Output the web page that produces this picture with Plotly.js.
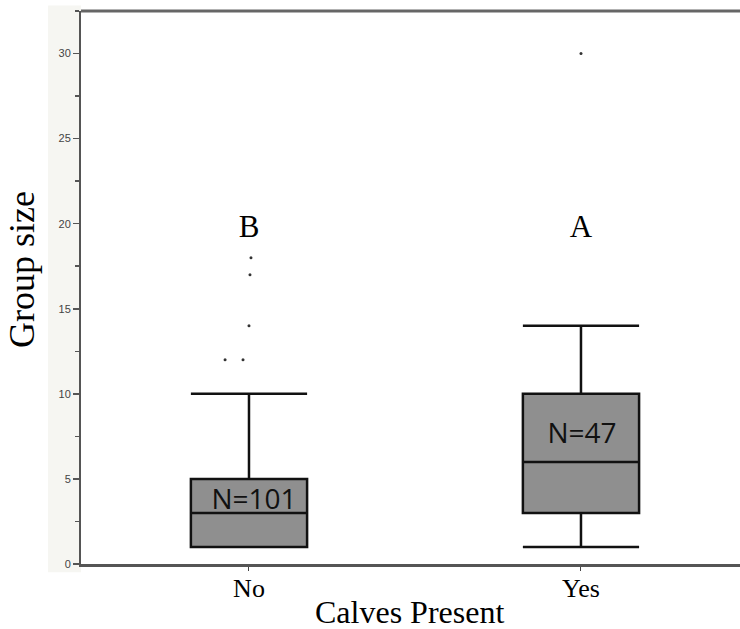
<!DOCTYPE html>
<html><head><meta charset="utf-8">
<script src="https://cdn.plot.ly/plotly-3.0.1.min.js"></script>
<style>html,body{margin:0;padding:0;background:#fff;}</style>
</head><body>
<div id="chart" style="width:740px;height:629px;"></div>
<script>
const categories = ["No", "Yes"];
const catPos = [0, 1];
const lowerWhisker = [1, 1];
const q1 = [1, 3];
const medians = [3, 6];
const q3 = [5, 10];
const upperWhisker = [10, 14];
const outlierCat = [0, 0, 0, 0, 0, 1];
const outlierJitter = [-0.072, -0.018, 0, 0.003, 0.006, 0];
const outlierValues = [12, 12, 14, 17, 18, 30];
const letters = ["B", "A"];
const letterY = [19.7, 19.7];
const nLabels = ["N=101", "N=47"];
const nLabelY = [3.65, 7.5];
const nLabelX = [0.015, 0.003];

const serif = "Liberation Serif, Times New Roman, serif";

const traces = [{
  type: "box",
  x: catPos,
  q1: q1, median: medians, q3: q3,
  lowerfence: lowerWhisker, upperfence: upperWhisker,
  width: 0.35,
  whiskerwidth: 1,
  boxpoints: false,
  fillcolor: "#8f8f8f",
  line: {color: "#111", width: 2.5},
  hoverinfo: "skip",
  showlegend: false
}, {
  type: "scatter", mode: "markers",
  x: outlierCat.map((c, i) => c + outlierJitter[i]),
  y: outlierValues,
  marker: {size: 3, color: "#333"},
  showlegend: false, hoverinfo: "skip"
}, {
  type: "scatter", mode: "text",
  x: catPos, y: letterY, text: letters,
  textfont: {family: serif, size: 31, color: "#000"},
  showlegend: false, hoverinfo: "skip"
}, {
  type: "scatter", mode: "text",
  x: catPos.map((c, i) => c + nLabelX[i]), y: nLabelY, text: nLabels,
  textfont: {family: "Open Sans, Liberation Sans, sans-serif", size: 28, color: "#111"},
  showlegend: false, hoverinfo: "skip"
}];

const layout = {
  width: 740, height: 629,
  margin: {l: 81, r: 0, t: 11, b: 65},
  paper_bgcolor: "#fff", plot_bgcolor: "#fff",
  showlegend: false,
  xaxis: {
    range: [-0.506, 1.479],
    tickvals: catPos, ticktext: categories,
    ticks: "outside", ticklen: 4, tickcolor: "#444",
    ticklabelstandoff: -5,
    tickfont: {family: serif, size: 26, color: "#000"},
    showgrid: false, zeroline: false,
    showline: true, linecolor: "#555", linewidth: 3
  },
  yaxis: {
    range: [0, 32.5],
    tickvals: [0, 5, 10, 15, 20, 25, 30],
    ticks: "outside", ticklen: 6, tickcolor: "#555", tickwidth: 1.5,
    minor: {dtick: 2.5, ticks: "outside", ticklen: 4, tickcolor: "#555", tickwidth: 1.5, showgrid: false},
    tickfont: {family: "Liberation Sans, Arial, sans-serif", size: 11, color: "#444"},
    showgrid: false, zeroline: false,
    showline: true, linecolor: "#555", linewidth: 2
  },
  annotations: [{
    text: "Group size", xref: "paper", yref: "paper",
    x: -0.0895, y: 0.5316, xanchor: "center", yanchor: "middle",
    textangle: -90, showarrow: false,
    font: {family: serif, size: 36, color: "#000"}
  }, {
    text: "Calves Present", xref: "paper", yref: "paper",
    x: 0.499, y: -0.0868, xanchor: "center", yanchor: "middle",
    showarrow: false,
    font: {family: serif, size: 32, color: "#000"}
  }],
  shapes: [{
    type: "rect", xref: "paper", yref: "paper", layer: "below",
    x0: -0.05, x1: 0, y0: -0.015, y1: 1.01,
    fillcolor: "#f6f6f2", line: {width: 0}
  }, {
    type: "line", xref: "paper", yref: "paper",
    x0: 0, x1: 1, y0: 1, y1: 1,
    line: {color: "#666", width: 3}
  }]
};

Plotly.newPlot("chart", traces, layout, {displayModeBar: false, staticPlot: true});
</script>
</body></html>
